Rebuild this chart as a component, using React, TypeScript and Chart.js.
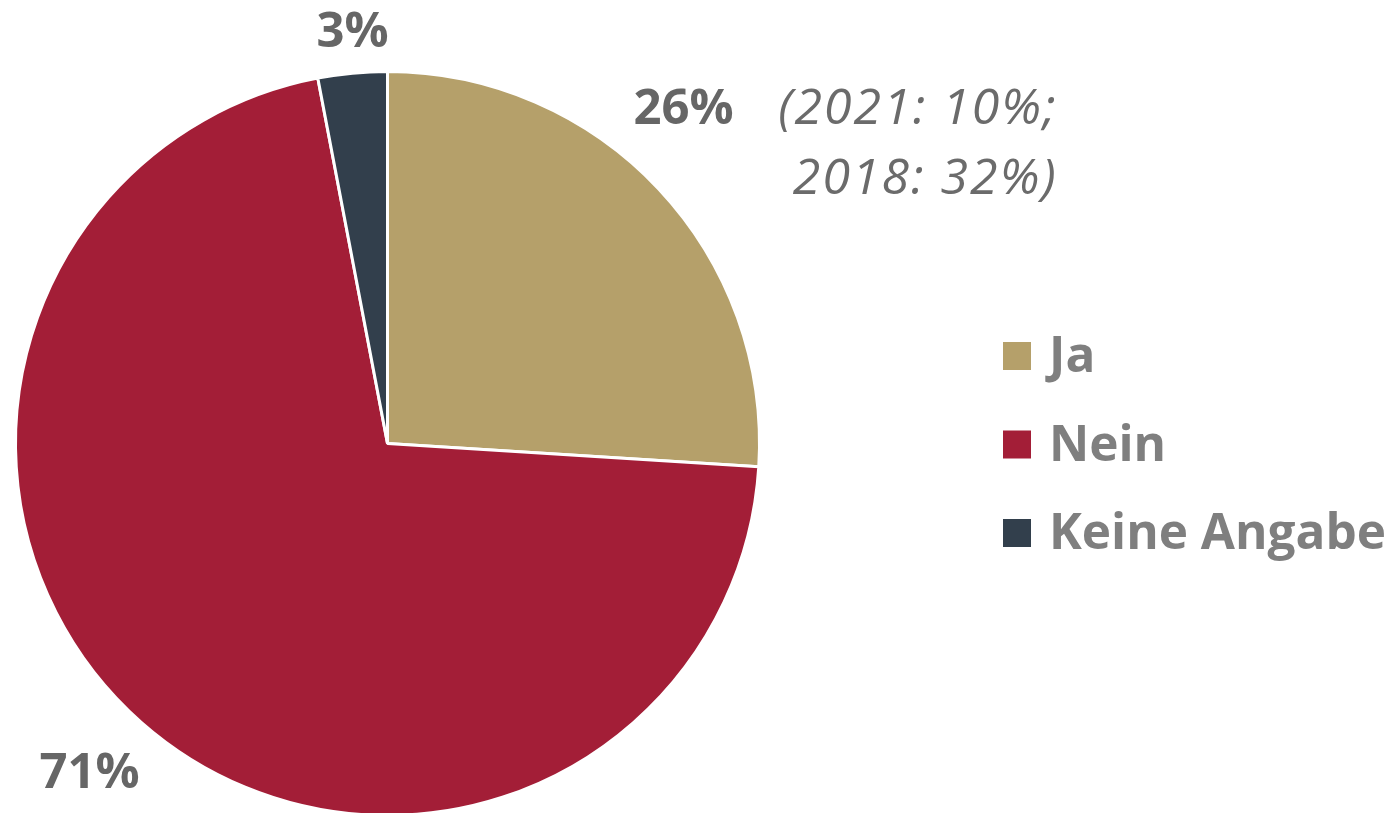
import React, { useEffect, useRef } from "react";
import { Chart, registerables } from "chart.js";

Chart.register(...registerables);

const categories = ["Ja", "Nein", "Keine Angabe"];
const values = [26, 71, 3];
const valueLabels = ["26%", "71%", "3%"];
const noteLines = ["(2021: 10%;", "2018: 32%)"];
const colors = ["#B5A06A", "#A31E37", "#323F4C"];

// label anchor positions, in units of the pie radius, relative to pie centre
const labelAnchors = [
  { fx: 0.796, fy: -0.86 },
  { fx: -0.801, fy: 0.925 },
  { fx: -0.094, fy: -1.065 },
];

const FONT = '"Open Sans", "DejaVu Sans", sans-serif';

const textPlugin = {
  id: "textPlugin",
  afterDraw(chart: any) {
    const ctx = chart.ctx;
    const meta = chart.getDatasetMeta(0);
    const arc0 = meta.data[0] as any;
    const cx = arc0.x;
    const cy = arc0.y;
    const R = arc0.outerRadius;
    ctx.save();
    ctx.textBaseline = "alphabetic";
    // value labels
    ctx.font = `bold 49px ${FONT}`;
    ctx.fillStyle = "#666666";
    ctx.textAlign = "center";
    meta.data.forEach((_: any, i: number) => {
      const a = labelAnchors[i];
      ctx.fillText(valueLabels[i], cx + a.fx * R, cy + a.fy * R);
    });
    // note next to Ja label
    const ja = labelAnchors[0];
    ctx.font = `italic 50px ${FONT}`;
    (ctx as any).letterSpacing = "2px";
    ctx.fillStyle = "#6B6B6B";
    ctx.textAlign = "right";
    const nx = cx + ja.fx * R + 374;
    const ny = cy + ja.fy * R;
    noteLines.forEach((line, i) => {
      ctx.fillText(line, nx, ny + i * 70);
    });
    (ctx as any).letterSpacing = "0px";
    // legend
    const lx = 1003;
    const ly = 342;
    ctx.textAlign = "left";
    ctx.font = `bold 49.5px ${FONT}`;
    categories.forEach((c, i) => {
      const y = ly + i * 88.5;
      ctx.fillStyle = colors[i];
      ctx.fillRect(lx, y, 28, 28);
      ctx.fillStyle = "#7F7F7F";
      ctx.fillText(c, lx + 46, y + 30);
    });
    ctx.restore();
  },
};

export default function App() {
  const ref = useRef<HTMLCanvasElement | null>(null);
  useEffect(() => {
    if (!ref.current) return;
    const chart = new Chart(ref.current, {
      type: "pie",
      data: {
        labels: categories,
        datasets: [
          {
            data: values,
            backgroundColor: colors,
            borderColor: "#FFFFFF",
            borderWidth: 3,
          },
        ],
      },
      options: {
        responsive: false,
        animation: false,
        devicePixelRatio: 1,
        layout: { padding: { left: 14, top: 70, right: 631, bottom: 15 } },
        plugins: {
          legend: { display: false },
          tooltip: { enabled: false },
        },
      },
      plugins: [textPlugin],
    });
    return () => chart.destroy();
  }, []);
  return (
    <div
      style={{
        position: "absolute",
        left: 0,
        top: 0,
        width: 1392,
        height: 813,
        overflow: "hidden",
        background: "#FFFFFF",
      }}
    >
      <canvas ref={ref} width={1392} height={832} style={{ width: 1392, height: 832, display: "block" }} />
    </div>
  );
}
